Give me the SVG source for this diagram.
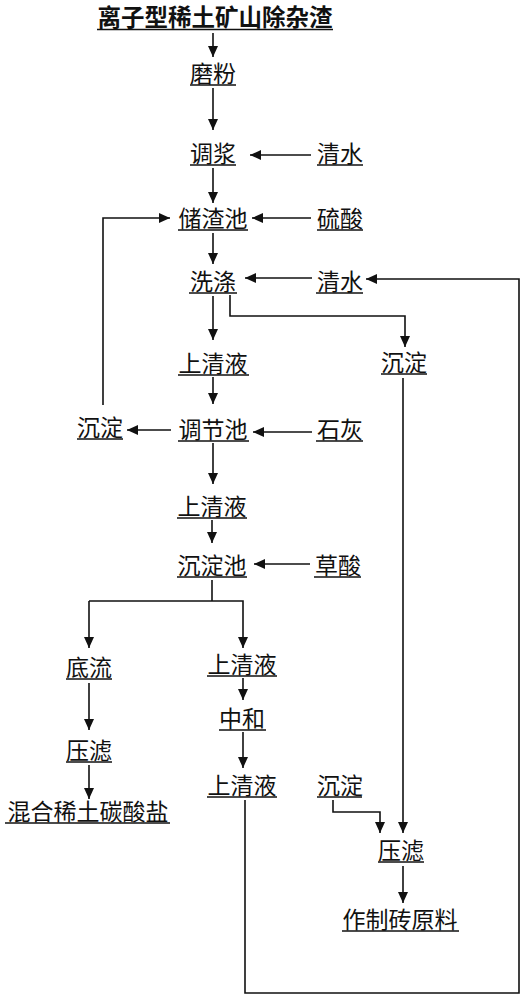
<svg xmlns="http://www.w3.org/2000/svg" width="526" height="1000" viewBox="0 0 526 1000">
<style>
text{font-family:"Liberation Serif","Noto Sans CJK SC",serif;font-size:23px;fill:#111;text-anchor:middle}
.t{font-weight:bold;font-size:23.5px}
.u{stroke:#111;stroke-width:1.6}
.c{fill:none;stroke:#111;stroke-width:1.6}
.a{marker-end:url(#ah)}
</style>
<defs>
<marker id="ah" markerUnits="userSpaceOnUse" markerWidth="12" markerHeight="11" refX="11" refY="5" orient="auto"><path d="M0,0 L11,5 L0,10 z" fill="#111"/></marker>
</defs>
<rect width="526" height="1000" fill="#fff"/>
<g id="n-title"><text class="t" x="215" y="26">离子型稀土矿山除杂渣</text><line class="u" x1="97" y1="29.5" x2="333" y2="29.5" stroke-width="2.2"/></g>
<g id="n-mofen"><text x="213" y="82">磨粉</text><line class="u" x1="190" y1="85" x2="236" y2="85"/></g>
<g id="n-tiaojiang"><text x="213" y="162">调浆</text><line class="u" x1="190" y1="165" x2="236" y2="165"/></g>
<g id="n-qingshui1"><text x="340" y="162">清水</text><line class="u" x1="317" y1="165" x2="363" y2="165"/></g>
<g id="n-chuzhachi"><text x="213" y="227">储渣池</text><line class="u" x1="178" y1="230" x2="248" y2="230"/></g>
<g id="n-liusuan"><text x="340" y="227">硫酸</text><line class="u" x1="317" y1="230" x2="363" y2="230"/></g>
<g id="n-xidi"><text x="213" y="290">洗涤</text><line class="u" x1="189" y1="293" x2="237" y2="293"/></g>
<g id="n-qingshui2"><text x="340" y="290">清水</text><line class="u" x1="316" y1="293" x2="363" y2="293"/></g>
<g id="n-chendian-r"><text x="404" y="371">沉淀</text><line class="u" x1="381" y1="374" x2="427" y2="374"/></g>
<g id="n-shangqing1"><text x="213" y="372">上清液</text><line class="u" x1="178" y1="375" x2="249" y2="375"/></g>
<g id="n-tiaojiechi"><text x="213" y="438">调节池</text><line class="u" x1="178" y1="441" x2="249" y2="441"/></g>
<g id="n-shihui"><text x="340" y="438">石灰</text><line class="u" x1="316" y1="441" x2="363" y2="441"/></g>
<g id="n-chendian-l"><text x="100" y="436">沉淀</text><line class="u" x1="77" y1="439" x2="123" y2="439"/></g>
<g id="n-shangqing2"><text x="212" y="515">上清液</text><line class="u" x1="177" y1="518" x2="247" y2="518"/></g>
<g id="n-chendianchi"><text x="212" y="574">沉淀池</text><line class="u" x1="177" y1="577" x2="247" y2="577"/></g>
<g id="n-caosuan"><text x="338" y="574">草酸</text><line class="u" x1="314" y1="577" x2="361" y2="577"/></g>
<g id="n-diliu"><text x="89" y="676">底流</text><line class="u" x1="66" y1="679" x2="112" y2="679"/></g>
<g id="n-shangqing3"><text x="242" y="673">上清液</text><line class="u" x1="207" y1="676" x2="277" y2="676"/></g>
<g id="n-zhonghe"><text x="242" y="727">中和</text><line class="u" x1="219" y1="730" x2="266" y2="730"/></g>
<g id="n-yalv-l"><text x="89" y="759">压滤</text><line class="u" x1="66" y1="762" x2="112" y2="762"/></g>
<g id="n-hunhe"><text x="88" y="820">混合稀土碳酸盐</text><line class="u" x1="5" y1="823" x2="170" y2="823"/></g>
<g id="n-shangqing4"><text x="242" y="794">上清液</text><line class="u" x1="207" y1="797" x2="277" y2="797"/></g>
<g id="n-chendian-b"><text x="340" y="794">沉淀</text><line class="u" x1="317" y1="797" x2="362" y2="797"/></g>
<g id="n-yalv-r"><text x="401" y="859">压滤</text><line class="u" x1="378" y1="862" x2="424" y2="862"/></g>
<g id="n-zhizhuan"><text x="400" y="928">作制砖原料</text><line class="u" x1="342" y1="931" x2="459" y2="931"/></g>
<g id="connectors">
<path class="c a" d="M213,33 V57"/>
<path class="c a" d="M213,88 V130"/>
<path class="c a" d="M311,155 H250"/>
<path class="c a" d="M213,168 V203"/>
<path class="c a" d="M311,218 H252"/>
<path class="c a" d="M103,405 V218 H170"/>
<path class="c a" d="M213,233 V264"/>
<path class="c a" d="M312,278 H245"/>
<path class="c a" d="M245,800 V993 H519 V279 H366"/>
<path class="c a" d="M230,295 V316 H405 V347"/>
<path class="c a" d="M213,296 V340"/>
<path class="c a" d="M213,377 V404"/>
<path class="c a" d="M312,432 H253"/>
<path class="c a" d="M171,430 H127"/>
<path class="c a" d="M213,443 V484"/>
<path class="c a" d="M212,520 V543"/>
<path class="c a" d="M310,564 H254"/>
<path class="c" d="M212,580 V601"/>
<path class="c a" d="M89,601 H243 V648"/>
<path class="c a" d="M89,601 V648"/>
<path class="c a" d="M89,683 V730"/>
<path class="c a" d="M243,678 V700"/>
<path class="c a" d="M243,732 V768"/>
<path class="c a" d="M89,765 V799"/>
<path class="c a" d="M403,378 V833"/>
<path class="c a" d="M333,800 V812 H380 V833"/>
<path class="c a" d="M403,866 V903"/>
</g>
</svg>
